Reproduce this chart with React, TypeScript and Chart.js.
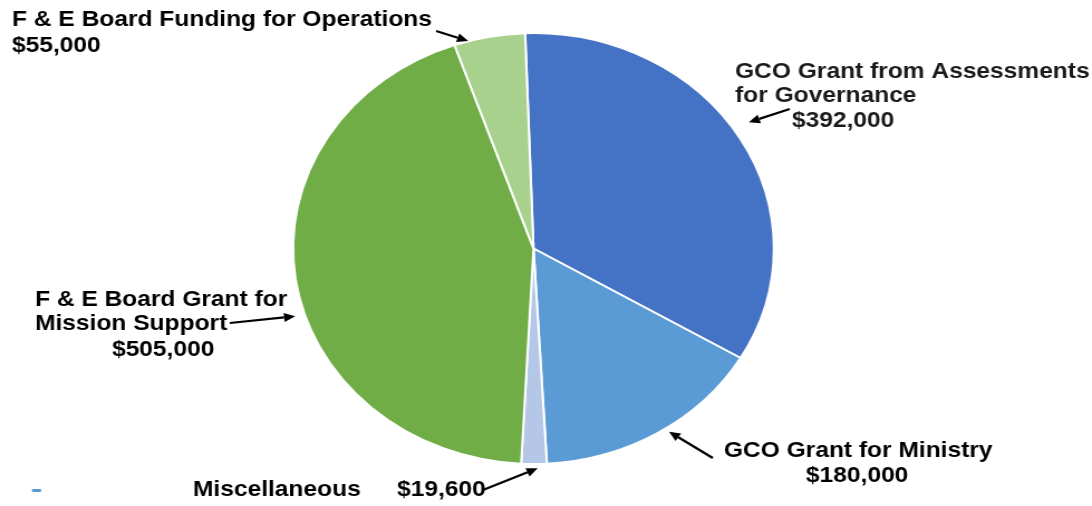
import React, { useEffect, useRef } from "react";
import { Chart, registerables } from "chart.js";

Chart.register(...registerables);

// ---- data ----
const categories = [
  "GCO Grant from Assessments for Governance",
  "GCO Grant for Ministry",
  "Miscellaneous",
  "F & E Board Grant for Mission Support",
  "F & E Board Funding for Operations",
];
const values = [392000, 180000, 19600, 505000, 55000];
const colors = ["#4472C4", "#5B9BD5", "#B4C7E7", "#70AD47", "#A9D18E"];
const nameLines = [
  ["GCO Grant from Assessments", "for Governance"],
  ["GCO Grant for Ministry"],
  ["Miscellaneous"],
  ["F & E Board Grant for", "Mission Support"],
  ["F & E Board Funding for Operations"],
];

// ---- layout (canvas space, before horizontal stretch) ----
const SX = 1.1154;
const CW = 979;
const CH = 506;

type Line = { x: number; y: number; align?: CanvasTextAlign };
const nameLayout: Line[][] = [
  [{ x: 659, y: 72 }, { x: 659, y: 96 }],
  [{ x: 649, y: 451 }],
  [{ x: 173, y: 490 }],
  [{ x: 31.4, y: 300 }, { x: 31.4, y: 324 }],
  [{ x: 10.8, y: 20 }],
];
const valueLayout: Line[] = [
  { x: 710, y: 121 },
  { x: 722.6, y: 476 },
  { x: 356, y: 490 },
  { x: 100.4, y: 350 },
  { x: 10.8, y: 46 },
];
const arrowTail = [
  [708, 109],
  [639, 458],
  [433, 490],
  [206, 323],
  [391, 31],
];
// where the arrow points: fraction along slice angle, fraction of radius
const arrowTarget = [
  [0.48, 1.07],
  [0.46, 1.02],
  [0.36, 1.02],
  [0.44, 1.04],
  [0.2, 1.0],
];

const fmt = (v: number) => "$" + v.toLocaleString("en-US");

function drawArrow(ctx: CanvasRenderingContext2D, x1: number, y1: number, x2: number, y2: number) {
  const ang = Math.atan2(y2 - y1, x2 - x1);
  const hl = 10;
  const hw = 4.5;
  const bx = x2 - Math.cos(ang) * hl;
  const by = y2 - Math.sin(ang) * hl;
  ctx.beginPath();
  ctx.moveTo(x1, y1);
  ctx.lineTo(bx, by);
  ctx.strokeStyle = "#000";
  ctx.lineWidth = 2.2;
  ctx.stroke();
  ctx.beginPath();
  ctx.moveTo(x2, y2);
  ctx.lineTo(bx - Math.sin(ang) * hw, by + Math.cos(ang) * hw);
  ctx.lineTo(bx + Math.sin(ang) * hw, by - Math.cos(ang) * hw);
  ctx.closePath();
  ctx.fillStyle = "#000";
  ctx.fill();
}

const labelPlugin = {
  id: "labels",
  afterDraw(chart: any) {
    const ctx: CanvasRenderingContext2D = chart.ctx;
    const meta = chart.getDatasetMeta(0);
    ctx.save();
    ctx.font = "bold 22px 'Liberation Sans', Arial, sans-serif";
    ctx.fillStyle = "#1a1a1a";
    ctx.textBaseline = "middle";
    ctx.textAlign = "left";
    values.forEach((v, i) => {
      nameLines[i].forEach((t, j) => {
        const p = nameLayout[i][j];
        ctx.fillText(t, p.x, p.y);
      });
      const vp = valueLayout[i];
      ctx.fillText(fmt(v), vp.x, vp.y);
      const arc = meta.data[i];
      const a = arc.startAngle + arrowTarget[i][0] * (arc.endAngle - arc.startAngle);
      const r = arc.outerRadius * arrowTarget[i][1];
      const hx = arc.x + Math.cos(a) * r;
      const hy = arc.y + Math.sin(a) * r;
      drawArrow(ctx, arrowTail[i][0], arrowTail[i][1], hx, hy);
    });
    // small legend-like dash
    ctx.fillStyle = "#5B9BD5";
    ctx.fillRect(32 / SX, 489, 9 / SX, 3);
    ctx.restore();
  },
};

export default function App() {
  const ref = useRef<HTMLCanvasElement | null>(null);
  useEffect(() => {
    if (!ref.current) return;
    const cx = 478.3;
    const r = 216.5;
    const chart = new Chart(ref.current, {
      type: "pie",
      data: {
        labels: categories,
        datasets: [
          {
            data: values,
            backgroundColor: colors,
            borderColor: "#ffffff",
            borderWidth: 2,
          },
        ],
      },
      options: {
        responsive: false,
        animation: false,
        devicePixelRatio: 1,
        rotation: -2,
        layout: {
          padding: { top: 32, bottom: CH - 32 - 2 * r, left: cx - r, right: CW - (cx + r) },
        },
        plugins: {
          legend: { display: false },
          tooltip: { enabled: false },
        },
      },
      plugins: [labelPlugin],
    });
    return () => chart.destroy();
  }, []);
  return (
    <div style={{ position: "fixed", left: 0, top: 0, width: 1092, height: 506, overflow: "hidden", background: "#fff" }}>
      <canvas
        ref={ref}
        width={CW}
        height={CH}
        style={{ width: CW, height: CH, display: "block", transform: `scaleX(${SX})`, transformOrigin: "0 0" }}
      />
    </div>
  );
}
